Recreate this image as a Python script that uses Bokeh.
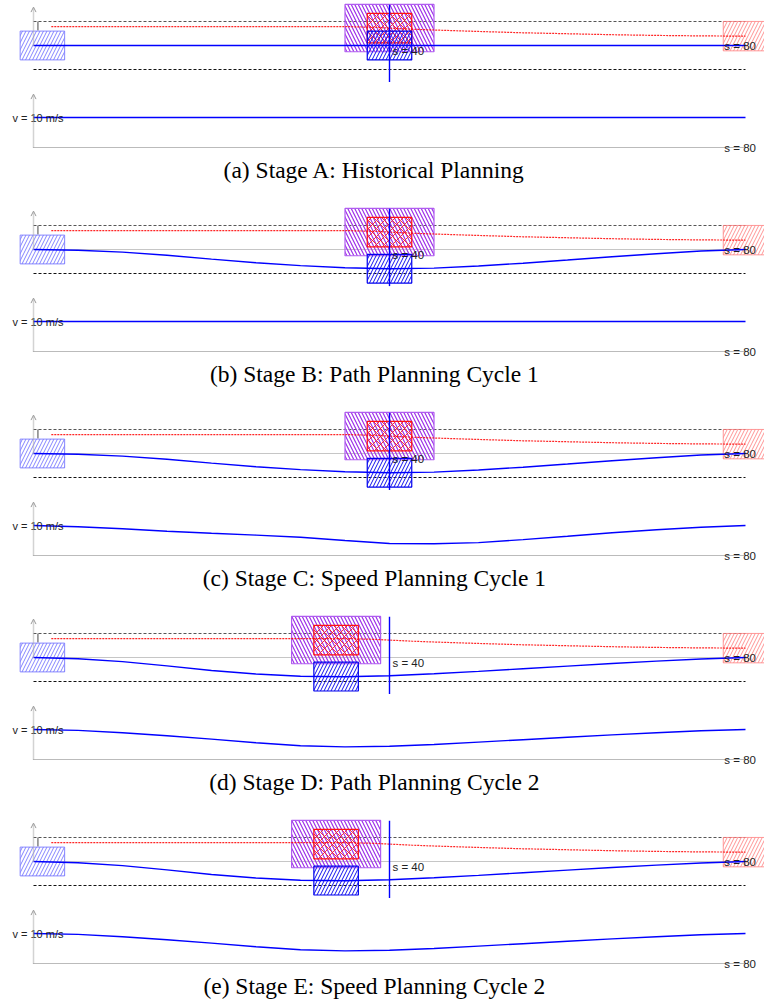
from bokeh.plotting import figure
from bokeh.layouts import column
from bokeh.models import Range1d, Arrow, OpenHead
from bokeh.core.properties import value
from bokeh.embed import file_html
from bokeh.resources import INLINE

# ---- data -------------------------------------------------------------
STAGES = ["a", "b", "c", "d", "e"]
CAPTIONS = [
    "(a) Stage A: Historical Planning",
    "(b) Stage B: Path Planning Cycle 1",
    "(c) Stage C: Speed Planning Cycle 1",
    "(d) Stage D: Path Planning Cycle 2",
    "(e) Stage E: Speed Planning Cycle 2",
]

# station samples (m) for path and speed profiles
S_GRID = [0, 5, 10, 15, 20, 25, 30, 35, 40, 45, 50, 55, 60, 65, 70, 75, 80]

# lateral offset of the planned path (m)
PATH_FLAT = [0] * 17
PATH_CYCLE1 = [0, -0.06, -0.22, -0.48, -0.80, -1.10, -1.34, -1.52, -1.60,
               -1.55, -1.38, -1.14, -0.88, -0.60, -0.35, -0.13, 0]
PATH_CYCLE2 = [0, -0.10, -0.34, -0.70, -1.08, -1.38, -1.56, -1.60, -1.52,
               -1.36, -1.16, -0.94, -0.72, -0.50, -0.30, -0.12, 0]

# speed profile (m/s)
SPEED_FLAT = [10] * 17
SPEED_CYCLE1 = [10, 9.6, 8.9, 8.1, 7.4, 6.8, 6.1, 5.0, 4.0,
                3.9, 4.3, 5.3, 6.4, 7.6, 8.6, 9.4, 10]
SPEED_CYCLE2 = [10, 9.7, 8.9, 7.9, 6.8, 5.6, 4.6, 4.2, 4.4,
                5.0, 5.8, 6.6, 7.4, 8.2, 8.9, 9.6, 10]

STAGE_PATH = [PATH_FLAT, PATH_CYCLE1, PATH_CYCLE1, PATH_CYCLE2, PATH_CYCLE2]
STAGE_SPEED = [SPEED_FLAT, SPEED_FLAT, SPEED_CYCLE1, SPEED_CYCLE2, SPEED_CYCLE2]
OBSTACLE_S = [40, 40, 40, 34, 34]

# obstacle predicted lateral trajectory (m)
OBS_TRAJ_S = [2, 10, 20, 30, 35, 38, 40, 42.5, 45, 50, 55, 60, 65, 70, 75, 80]
OBS_TRAJ_L = [1.58, 1.58, 1.58, 1.58, 1.58, 1.52, 1.45, 1.36, 1.29, 1.17,
              1.06, 0.98, 0.90, 0.84, 0.80, 0.78]

OBS_L = 1.45
LANE_HALF = 2.0
S_END = 80
S_MARK = 40
V_REF = 10
TARGET_L = 0.78

EGO_LEN, EGO_WID = 5.0, 2.4
OBS_LEN, OBS_WID = 5.0, 2.45
BUF_LEN, BUF_WID = 10.0, 3.94

# ---- layout constants -------------------------------------------------
W = 764
PX_PER_M = 8.9
X0 = 33
X_RANGE = (-X0 / PX_PER_M, (W - X0) / PX_PER_M)
PATH_H = 88
REF_Y = 45.0          # reference line, pixels from top of path figure
LAT_PX = 12.0         # pixels per metre laterally
SPEED_H = 116
BASE_Y = 59.0         # speed baseline, pixels from top of speed figure
SPD_PX = 3.0          # pixels per m/s

SANS = value("Liberation Sans")
SERIF = value("Liberation Serif")
BLUE = "#0000ff"
BLUE_W = 1.4


def blank(height, y0, y1):
    p = figure(width=W, height=height, x_range=Range1d(*X_RANGE),
               y_range=Range1d(y0, y1), toolbar_location=None,
               output_backend="svg", min_border=0)
    p.axis.visible = False
    p.grid.visible = False
    p.outline_line_color = None
    return p


def box(p, s, l, length, width, **kw):
    p.quad(left=[s - length / 2], right=[s + length / 2],
           bottom=[l - width / 2], top=[l + width / 2], fill_color=None, **kw)


def interp(xs, ys, x):
    for i in range(len(xs) - 1):
        if xs[i] <= x <= xs[i + 1]:
            t = (x - xs[i]) / (xs[i + 1] - xs[i])
            return ys[i] + t * (ys[i + 1] - ys[i])
    return ys[-1]


def path_figure(path, obs_s):
    p = blank(PATH_H, (REF_Y - PATH_H) / LAT_PX, REF_Y / LAT_PX)
    # axis arrow
    p.add_layout(Arrow(end=OpenHead(size=5, line_color="#9a9a9a", line_width=1),
                       x_start=0, y_start=0, x_end=0, y_end=3.2,
                       line_color="#a8a8a8", line_width=1.5, line_dash="1 1"))
    # lane boundaries and reference line
    p.line([0, S_END], [LANE_HALF, LANE_HALF], line_color="#555555",
           line_width=1, line_dash="3 2")
    p.line([0, S_END], [-LANE_HALF, -LANE_HALF], line_color="#111111",
           line_width=1, line_dash="3 2")
    p.line([0, S_END], [0, 0], line_color="#8c8c8c", line_width=1,
           line_dash="1 1")
    p.segment(x0=[0.5], y0=[LANE_HALF], x1=[0.5], y1=[1.25],
              line_color="#444444", line_width=1)

    # ego start, target and obstacle
    box(p, 1.0, 0, EGO_LEN, EGO_WID, line_color="#7b7bff", line_alpha=0.9,
        hatch_pattern="/", hatch_color="#6e6eff", hatch_alpha=0.85,
        hatch_scale=7, hatch_weight=1)
    box(p, S_END, TARGET_L, OBS_LEN, OBS_WID, line_color="#ff8080",
        line_alpha=0.8, hatch_pattern="/", hatch_color="#ff7070",
        hatch_alpha=0.75, hatch_scale=7, hatch_weight=1)
    box(p, obs_s, OBS_L, BUF_LEN, BUF_WID, line_color="#b05cf0",
        line_width=1.2, hatch_pattern="\\", hatch_color="#9d30e8",
        hatch_alpha=1.0, hatch_scale=7, hatch_weight=1.2)
    box(p, obs_s, OBS_L, OBS_LEN, OBS_WID, line_color="#ff1010",
        line_width=1.2, hatch_pattern="x", hatch_color="#ff2020",
        hatch_alpha=0.9, hatch_scale=8, hatch_weight=1)
    ego_l = interp(S_GRID, path, obs_s)
    box(p, obs_s, ego_l, EGO_LEN, EGO_WID, line_color="#0000ee",
        line_width=1.2, hatch_pattern="/", hatch_color="#1010ee",
        hatch_scale=7, hatch_weight=1)

    # obstacle trajectory and planned path
    p.line(OBS_TRAJ_S, OBS_TRAJ_L, line_color="#ff0000", line_width=1.2,
           line_dash="2 1", line_alpha=0.85)
    p.line(S_GRID, path, line_color=BLUE, line_width=BLUE_W)

    # station marker
    p.segment(x0=[S_MARK], y0=[3.4], x1=[S_MARK], y1=[-3.05],
              line_color=BLUE, line_width=BLUE_W)
    p.text(x=[S_MARK], y=[-0.42], text=["s = 40"], x_offset=3,
           text_font=SANS, text_font_size="11.5px", text_color="#222222",
           text_baseline="middle", text_align="left")
    p.text(x=[79.4], y=[-0.05], text=["s = 80"], text_font=SANS,
           text_font_size="11.5px", text_color="#222222",
           text_baseline="middle", text_align="center")
    return p


def speed_figure(speed, caption, height):
    p = blank(height, (BASE_Y - height) / SPD_PX, BASE_Y / SPD_PX)
    p.add_layout(Arrow(end=OpenHead(size=5, line_color="#9a9a9a", line_width=1),
                       x_start=0, y_start=0, x_end=0, y_end=17.8,
                       line_color="#a8a8a8", line_width=1.5, line_dash="1 1"))
    p.line([0, S_END], [0, 0], line_color="#777777", line_width=1,
           line_dash="1 1")
    p.line(S_GRID, speed, line_color=BLUE, line_width=BLUE_W)
    p.text(x=[0.5], y=[V_REF], text=["v = 10 m/s"], text_font=SANS,
           text_font_size="11px", text_color="#222222",
           text_baseline="middle", text_align="center")
    p.text(x=[79.4], y=[0], text=["s = 80"], text_font=SANS,
           text_font_size="11.5px", text_color="#222222",
           text_baseline="middle", text_align="center")
    p.text(x=[38.3], y=[-7.4], text=[caption], text_font=SERIF,
           text_font_size="23.5px", text_color="#000000",
           text_baseline="middle", text_align="center")
    return p


rows = []
for i, stage in enumerate(STAGES):
    rows.append(path_figure(STAGE_PATH[i], OBSTACLE_S[i]))
    h = SPEED_H if i < len(STAGES) - 1 else 99
    rows.append(speed_figure(STAGE_SPEED[i], CAPTIONS[i], h))

layout = column(*rows, spacing=0)
open("out.html", "w").write(file_html(layout, INLINE))
